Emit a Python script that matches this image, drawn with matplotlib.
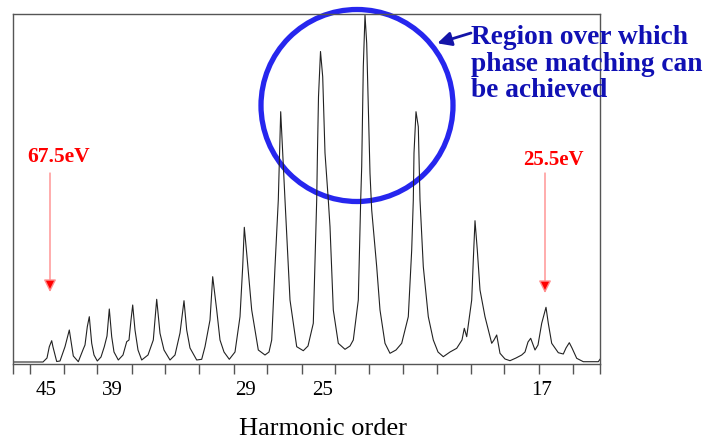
import matplotlib
matplotlib.use("Agg")
import matplotlib.pyplot as plt
from matplotlib.patches import Circle

# spectrum trace: (position along detector, intensity), arbitrary units
trace = [
    (1, 2), (30, 2), (34, 6), (36.3, 17.3), (38.7, 23.3), (40, 17), (43.7, 2.5),
    (47, 3), (52, 17.3), (56.3, 34), (60.3, 8), (65.3, 2.3),
    (70.3, 15), (72, 19), (74.3, 37.3), (76.3, 47.3), (78.7, 20.7), (81, 9), (84.3, 3),
    (88, 7), (91.3, 17.3), (94, 28), (96.3, 55), (98.7, 27.3), (101, 12), (105.3, 4),
    (110, 9), (113.7, 22.3), (116, 24), (118, 44), (119.7, 59), (122, 34), (125, 14), (128.7, 4),
    (135, 9), (140.3, 24), (143.7, 64.7), (147, 30.7), (151, 14), (157, 4),
    (162, 9), (167, 31), (171, 63.3), (173.7, 34), (177, 16), (183.7, 4),
    (188.7, 4.7), (192, 17.3), (197, 44), (199.7, 87.3), (203.7, 54), (207, 24), (211, 12), (216.3, 4.7),
    (222, 12), (227, 47.3), (229.7, 97.3), (231.3, 136.7), (233.7, 110.7), (238.7, 54), (245.3, 14), (252, 9),
    (256, 12), (258.7, 24), (262, 97.3), (265.3, 164), (267.7, 252.3), (270, 204), (272, 164), (277, 64),
    (283.7, 17.3), (290.3, 13.3), (295, 18), (300.3, 40.7), (303.7, 164), (304.5, 214), (305.5, 267.3),
    (307.5, 312.5), (309.7, 287.3), (312, 211), (315.3, 164), (317, 137.3), (320.3, 54), (325.3, 20.7),
    (332, 14.7), (337, 18), (340.3, 24), (345.3, 64), (347.7, 164), (348.7, 197.3), (350.3, 297.3),
    (352, 349), (353.7, 320.7), (357, 190.7), (358.7, 154), (363.7, 97.3), (367, 54), (372, 20.7),
    (377, 10.7), (383, 14), (388.7, 20.7), (395.3, 47.3), (398.7, 114), (400.3, 164), (401, 211),
    (403, 252.3), (405.3, 237.3), (407, 164), (410.3, 97.3), (415.3, 47.3), (420.3, 24), (425, 12),
    (430.3, 7.3), (437, 12), (443.7, 15.7), (449, 24), (451.3, 35.7), (453.7, 27.3), (458.7, 64),
    (460.3, 104), (462, 143.3), (464.3, 114), (467, 74), (472, 47.3), (478.7, 20.7), (481, 24),
    (483.7, 29), (487, 10.7), (492, 5), (497, 3.3), (503, 6), (508.7, 9), (512, 12), (515, 22),
    (517.7, 25.7), (522, 14), (525, 19), (528.7, 40.7), (533, 56.7), (535.3, 40.7), (538.7, 20.7),
    (545.3, 11.3), (550.3, 10), (553, 16), (556.3, 21.3), (559, 16), (563.7, 5.7), (570.3, 2.3),
    (585.3, 2.3), (587, 4.7),
]
pos = [p for p, _ in trace]
intensity = [v for _, v in trace]

# harmonic labels and where they sit on the detector axis
harmonic_labels = ["45", "39", "29", "25", "17"]
harmonic_pos = [33, 99, 232, 310, 528.5]
tick_marks = [0, 17, 51.3, 84.3, 118.7, 152, 186.3, 221.3, 253.7, 288.7, 322,
              356.3, 390.3, 423.7, 457.7, 491.3, 525.7, 559.7, 587]

serif = "Liberation Serif"

fig = plt.figure(figsize=(7.07, 4.41), dpi=100)
ax = fig.add_axes([13 / 707, 77 / 441, 587 / 707, 350 / 441])

ax.plot(pos, intensity, color="#222222", lw=0.8)
ax.set_xlim(0, 587)
ax.set_ylim(0, 350)

for s in ax.spines.values():
    s.set_color("#555555")
    s.set_linewidth(1.0)

ax.set_yticks([])
ax.set_xticks(harmonic_pos, harmonic_labels, fontfamily=serif, fontsize=15)
ax.tick_params(axis="x", which="major", length=0, pad=12.5)
ax.set_xticks(tick_marks, minor=True)
ax.tick_params(axis="x", which="minor", length=7, width=1, color="#555555", direction="out")

ax.set_xlabel("Harmonic order", fontfamily=serif, fontsize=19, va="center")
ax.xaxis.set_label_coords(310 / 587, -65 / 350)

# photon energy markers
red_arrow = dict(arrowstyle="-|>,head_length=0.5,head_width=0.25", mutation_scale=15,
                 lw=1.0, ec="#ff8c8c", fc="red", shrinkA=0, shrinkB=0)
ax.annotate("", xy=(37, 72), xytext=(37, 191), arrowprops=red_arrow)
ax.text(46, 207, "67.5eV", color="red", fontfamily=serif, fontsize=15.5,
        fontweight="bold", ha="center", va="center")
ax.annotate("", xy=(532, 71), xytext=(532, 191), arrowprops=red_arrow)
ax.text(540.5, 204, "25.5eV", color="red", fontfamily=serif, fontsize=15,
        fontweight="bold", ha="center", va="center")

# phase matching region
ax.add_patch(Circle((344, 258.5), 96, fill=False, ec="#2626ee", lw=3.8, clip_on=False))
ax.annotate("", xy=(424.3, 320.7), xytext=(458, 331),
            arrowprops=dict(arrowstyle="-|>,head_length=0.6,head_width=0.3", mutation_scale=14,
                            lw=2, color="#1414a8", shrinkA=0, shrinkB=0),
            annotation_clip=False)
ax.text(458, 300, "Region over which\nphase matching can\nbe achieved", color="#1010b4",
        fontfamily=serif, fontsize=19.7, fontweight="bold", ha="left", va="center",
        linespacing=1.06)

fig.savefig("out.png", dpi=100)
